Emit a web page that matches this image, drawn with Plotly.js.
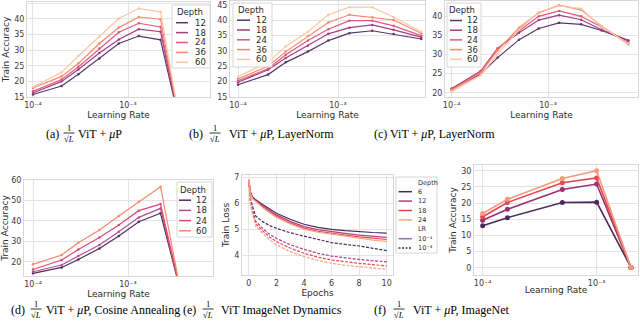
<!DOCTYPE html>
<html><head><meta charset="utf-8">
<script src="https://cdn.plot.ly/plotly-3.0.1.min.js"></script>
<style>html,body{margin:0;padding:0;background:#fff}#chart{width:640px;height:325px}</style>
</head><body><div id="chart"></div>
<script>
// ---------------- DATA ----------------
// (a) 1/sqrt(L) ViT + muP
const lrA = [1e-4, 2e-4, 3e-4, 5e-4, 8e-4, 1.3e-3, 2.2e-3, 3.6e-3];
const depthsA = [12, 18, 24, 36, 60];
const accA_12 = [15.8, 18.5, 22.3, 27.3, 32.1, 34.5, 33.3, 5];
const accA_18 = [16.3, 20.0, 23.8, 29.1, 33.4, 36.7, 35.9, 5];
const accA_24 = [16.8, 20.6, 24.6, 30.5, 35.7, 38.6, 37.4, 5];
const accA_36 = [17.9, 21.6, 25.7, 32.1, 37.2, 40.6, 39.9, 5];
const accA_60 = [18.2, 22.9, 28.1, 34.4, 40.1, 43.3, 42.3, 5];

// (b) 1/sqrt(L) ViT + muP, LayerNorm
const lrB = [1e-4, 2e-4, 3e-4, 5e-4, 8e-4, 1.3e-3, 2.2e-3, 3.6e-3, 6.8e-3];
const accB_12 = [19.0, 22.3, 26.3, 29.8, 33.4, 35.8, 36.6, 35.5, 33.9];
const accB_18 = [19.8, 23.9, 27.7, 31.7, 35.6, 37.6, 38.5, 36.9, 34.5];
const accB_24 = [20.3, 24.2, 28.8, 33.4, 37.1, 39.9, 39.9, 38.2, 35.0];
const accB_36 = [20.9, 25.0, 29.8, 34.9, 39.3, 41.8, 41.0, 40.1, 35.8];
const accB_60 = [21.7, 26.3, 31.5, 36.3, 41.8, 44.3, 44.3, 41.0, 36.3];

// (c) ViT + muP, LayerNorm
const lrC = [1e-4, 2e-4, 3e-4, 5e-4, 8e-4, 1.3e-3, 2.2e-3, 3.6e-3, 6.8e-3];
const accC_12 = [20.9, 24.9, 29.2, 33.9, 36.8, 38.3, 37.9, 36.3, 33.6];
const accC_18 = [21.1, 25.7, 31.6, 35.7, 39.0, 40.3, 39.1, 36.5, 33.7];
const accC_24 = [20.9, 25.5, 31.6, 36.2, 40.0, 41.4, 40.0, 37.2, 33.0];
const accC_36 = [20.7, 25.2, 31.1, 37.0, 40.9, 42.9, 41.7, 37.4, 32.7];
const accC_60 = [20.3, 24.6, 30.1, 36.5, 41.1, 42.7, 42.0, 37.2, 32.9];

// (d) 1/sqrt(L) ViT + muP, Cosine Annealing
const lrD = [1e-4, 2e-4, 3e-4, 5e-4, 8e-4, 1.3e-3, 2.2e-3, 3.6e-3];
const depthsD = [12, 18, 24, 60];
const accD_12 = [14.3, 17.2, 21.1, 26.5, 32.6, 39.6, 43.7, 5];
const accD_18 = [15.1, 18.4, 22.8, 28.2, 34.7, 41.7, 46.1, 5];
const accD_24 = [16.2, 20.8, 26.0, 31.9, 38.0, 45.0, 48.2, 5];
const accD_60 = [18.7, 23.3, 29.3, 35.5, 42.4, 49.4, 56.7, 5];

// (e) 1/sqrt(L) ViT ImageNet Dynamics
const epochsE = [0, 0.1, 0.25, 0.5, 1, 1.5, 2, 3, 4, 5, 6, 7, 8, 9, 10];
const depthsE = [6, 12, 18, 24];
const lrLabelsE = ['10⁻⁴', '10⁻³'];
const lossE_6_lo  = [6.9, 6.45, 6.25, 6.13, 5.95, 5.77, 5.61, 5.38, 5.19, 5.07, 4.99, 4.94, 4.90, 4.87, 4.85];
const lossE_12_lo = [6.9, 6.42, 6.22, 6.10, 5.90, 5.72, 5.55, 5.30, 5.10, 4.98, 4.90, 4.84, 4.77, 4.72, 4.68];
const lossE_18_lo = [6.9, 6.40, 6.20, 6.08, 5.87, 5.68, 5.50, 5.24, 5.04, 4.92, 4.84, 4.77, 4.70, 4.65, 4.60];
const lossE_24_lo = [6.9, 6.38, 6.18, 6.06, 5.83, 5.63, 5.45, 5.20, 5.00, 4.88, 4.80, 4.72, 4.64, 4.58, 4.53];
const lossE_6_hi  = [6.9, 6.20, 5.90, 5.50, 5.29, 5.14, 5.03, 4.86, 4.73, 4.60, 4.48, 4.41, 4.35, 4.26, 4.17];
const lossE_12_hi = [6.9, 6.10, 5.75, 5.30, 5.03, 4.80, 4.64, 4.40, 4.22, 4.07, 3.96, 3.89, 3.83, 3.78, 3.74];
const lossE_18_hi = [6.9, 6.05, 5.68, 5.20, 4.94, 4.70, 4.52, 4.27, 4.07, 3.92, 3.81, 3.74, 3.68, 3.63, 3.58];
const lossE_24_hi = [6.9, 6.00, 5.62, 5.10, 4.84, 4.58, 4.39, 4.13, 3.94, 3.79, 3.68, 3.60, 3.55, 3.50, 3.45];

// (f) 1/sqrt(L) ViT + muP, ImageNet
const lrF = [1e-4, 1.65e-4, 5e-4, 1e-3, 2e-3];
const depthsF = [6, 12, 18, 24];
const accF_6  = [13.0, 15.5, 20.2, 20.3, 0.1];
const accF_12 = [14.7, 18.1, 24.2, 25.9, 0.1];
const accF_18 = [15.8, 20.2, 26.3, 27.8, 0.1];
const accF_24 = [16.8, 21.2, 27.6, 30.0, 0.1];

const logTickVals = [1e-4, 1e-3];
const logTickText = ['10⁻⁴', '10⁻³'];

// ---------------- STYLE ----------------
const FONT = 'DejaVu Sans';
const SERIF = 'Liberation Serif';
const W = 640, H = 325;
const px = x => x / W, py = y => 1 - y / H;
const colA = {12: '#5a3768', 18: '#a23e82', 24: '#e2577f', 36: '#f6896a', 60: '#fcc6a6'};
const colD = {12: '#4f2d5e', 18: '#b5508f', 24: '#e2467a', 60: '#f48a68'};
const colE = {6: '#4a2a5e', 12: '#b0417f', 18: '#e9474e', 24: '#f7a784'};
const colF = {6: '#4b2b5a', 12: '#9c2f6d', 18: '#e5474f', 24: '#f39b7b'};

const traces = [];
function addLines(xs, ysList, depths, cols, ax, lw, ms) {
  depths.forEach((d, i) => {
    traces.push({
      type: 'scatter', mode: 'lines+markers', x: xs, y: ysList[i],
      xaxis: ax[0], yaxis: ax[1], name: String(d),
      line: {color: cols[d], width: lw},
      marker: {color: cols[d], size: ms},
      hoverinfo: 'skip'
    });
  });
}
addLines(lrA, [accA_12, accA_18, accA_24, accA_36, accA_60], depthsA, colA, ['x', 'y'], 1.2, 2.5);
addLines(lrB, [accB_12, accB_18, accB_24, accB_36, accB_60], depthsA, colA, ['x2', 'y2'], 1.2, 2.5);
addLines(lrC, [accC_12, accC_18, accC_24, accC_36, accC_60], depthsA, colA, ['x3', 'y3'], 1.2, 2.5);
addLines(lrD, [accD_12, accD_18, accD_24, accD_60], depthsD, colD, ['x4', 'y4'], 1.2, 2.5);
// (e)
const lossLo = [lossE_6_lo, lossE_12_lo, lossE_18_lo, lossE_24_lo];
const lossHi = [lossE_6_hi, lossE_12_hi, lossE_18_hi, lossE_24_hi];
depthsE.forEach((d, i) => {
  traces.push({type: 'scatter', mode: 'lines', x: epochsE, y: lossLo[i], xaxis: 'x5', yaxis: 'y5',
    line: {color: colE[d], width: 1.2}, hoverinfo: 'skip', name: d + ' lr1e-4'});
  traces.push({type: 'scatter', mode: 'lines', x: epochsE, y: lossHi[i], xaxis: 'x5', yaxis: 'y5',
    line: {color: colE[d], width: 1.2, dash: '3px,1.5px'}, hoverinfo: 'skip', name: d + ' lr1e-3'});
});
addLines(lrF, [accF_6, accF_12, accF_18, accF_24], depthsF, colF, ['x6', 'y6'], 1.6, 5);

// ---------------- AXES ----------------
const tickfont = {family: FONT, size: 8, color: '#3b3b3b'};
const titlefont = {family: FONT, size: 9, color: '#2b2b2b'};
function ax(extra) {
  return Object.assign({
    showgrid: true, gridcolor: '#e4e4e4', gridwidth: 1,
    showline: true, mirror: true, linecolor: '#d8d8d8', linewidth: 1,
    zeroline: false, ticks: '', tickfont: tickfont, fixedrange: true
  }, extra);
}
function logX(x0, x1, range, anchor, title) {
  const o = ax({type: 'log', domain: [px(x0), px(x1)], range: range, anchor: anchor,
    tickvals: logTickVals, ticktext: logTickText});
  if (title) o.title = {text: title, font: titlefont, standoff: 0};
  return o;
}
function linY(y0, y1, range, anchor, dtick, title) {
  const o = ax({domain: [py(y1), py(y0)], range: range, anchor: anchor, dtick: dtick, tick0: 0});
  if (title) o.title = {text: title, font: titlefont, standoff: 3};
  return o;
}

const layout = {
  width: W, height: H, margin: {l: 0, r: 0, t: 0, b: 0},
  paper_bgcolor: '#ffffff', plot_bgcolor: '#ffffff', showlegend: false,
  font: {family: FONT, color: '#333'},
  xaxis:  logX(27, 210, [-4.063, -2.137], 'y', 'Learning Rate'),
  yaxis:  linY(2, 97, [15, 45.4], 'x', 5, 'Train Accuracy'),
  xaxis2: logX(230, 425, [-4.08, -2.13], 'y2', 'Learning Rate'),
  yaxis2: linY(1, 97, [15, 46.3], 'x2', 5),
  xaxis3: logX(445, 638, [-4.069, -2.067], 'y3', 'Learning Rate'),
  yaxis3: linY(1, 97, [18.9, 44], 'x3', 5),
  xaxis4: logX(24, 213, [-4.095, -2.105], 'y4', 'Learning Rate'),
  yaxis4: linY(180, 276, [13, 60], 'x4', 10, 'Train Accuracy'),
  xaxis5: ax({domain: [px(242), px(393)], range: [-0.5, 10.46], anchor: 'y5', dtick: 2, tick0: 0,
    title: {text: 'Epochs', font: titlefont, standoff: 0}}),
  yaxis5: linY(175, 275, [3.23, 7.09], 'x5', 1, 'Train Loss'),
  xaxis6: logX(474, 638, [-4.076, -2.637], 'y6', 'Learning Rate'),
  yaxis6: linY(165, 275, [-2.25, 31.8], 'x6', 5, 'Train Accuracy'),
  shapes: [], annotations: []
};

// ---------------- LEGENDS (drawn by hand, compact like matplotlib) ----------------
function legend(box, title, titleX, titleY, labels, cols, dashes, rowY0, step, lx0, lx1, tx, fs, titleAnchor) {
  layout.shapes.push({type: 'rect', xref: 'paper', yref: 'paper', layer: 'above',
    x0: px(box[0]), x1: px(box[2]), y0: py(box[3]), y1: py(box[1]),
    line: {color: '#d6d6d6', width: 1}, fillcolor: 'rgba(255,255,255,0.85)'});
  layout.annotations.push({xref: 'paper', yref: 'paper', x: px(titleX), y: py(titleY),
    xanchor: titleAnchor || 'center', yanchor: 'middle', text: title, showarrow: false,
    font: {family: FONT, size: fs, color: '#2b2b2b'}, borderpad: 0});
  labels.forEach((lab, i) => {
    const y = rowY0 + i * step;
    if (cols[i]) {
      layout.shapes.push({type: 'line', xref: 'paper', yref: 'paper', layer: 'above',
        x0: px(lx0), x1: px(lx1), y0: py(y), y1: py(y),
        line: {color: cols[i], width: 1.5, dash: dashes && dashes[i] ? dashes[i] : 'solid'}});
    }
    layout.annotations.push({xref: 'paper', yref: 'paper', x: px(tx), y: py(y),
      xanchor: 'left', yanchor: 'middle', text: lab, showarrow: false,
      font: {family: FONT, size: fs, color: '#2b2b2b'}, borderpad: 0});
  });
}
const labA = depthsA.map(String), cA = depthsA.map(d => colA[d]);
legend([172, 5, 210, 68], 'Depth', 190, 12.5, labA, cA, null, 22.7, 9.9, 176, 188, 194, 8.5);
legend([233, 3, 272, 67], 'Depth', 251, 10, labA, cA, null, 20.2, 9.8, 237, 250, 255, 8.5);
legend([447, 3, 481, 67], 'Depth', 462, 9.5, labA, cA, null, 20.5, 9.7, 450, 462, 466, 8.5);
legend([177, 182, 212, 237], 'Depth', 193, 189.5, depthsD.map(String), depthsD.map(d => colD[d]), null,
  200.2, 10.2, 179, 191, 195, 8.5);
legend([396, 177, 437, 253], 'Depth', 416.5, 182.7,
  depthsE.map(String).concat(['LR'], lrLabelsE),
  depthsE.map(d => colE[d]).concat([null, '#8f7399', '#4a2a5e']),
  [null, null, null, null, null, 'solid', '2px,1.5px'],
  191.7, 9.4, 398.5, 412, 416.5, 6.5, 'left');

// ---------------- CAPTIONS ----------------
function caption(yc, lab, labX, fracX, rest, restX) {
  const f = {family: SERIF, size: 12, color: '#000'};
  layout.annotations.push({xref: 'paper', yref: 'paper', x: px(labX), y: py(yc), xanchor: 'left', yanchor: 'middle',
    text: lab, showarrow: false, font: f, borderpad: 0});
  if (fracX !== null) {
    const ff = {family: SERIF, size: 8.5, color: '#000'};
    layout.annotations.push({xref: 'paper', yref: 'paper', x: px(fracX), y: py(yc - 6.3), xanchor: 'center', yanchor: 'middle',
      text: '1', showarrow: false, font: ff, borderpad: 0});
    layout.annotations.push({xref: 'paper', yref: 'paper', x: px(fracX), y: py(yc + 5.3), xanchor: 'center', yanchor: 'middle',
      text: '√<i>L</i>', showarrow: false, font: ff, borderpad: 0});
    layout.shapes.push({type: 'line', xref: 'paper', yref: 'paper', x0: px(fracX - 5.5), x1: px(fracX + 5.5),
      y0: py(yc - 1), y1: py(yc - 1), line: {color: '#000', width: 0.8}});
  }
  if (rest) {
    layout.annotations.push({xref: 'paper', yref: 'paper', x: px(restX), y: py(yc), xanchor: 'left', yanchor: 'middle',
      text: rest, showarrow: false, font: f, borderpad: 0});
  }
}
caption(134, '(a)', 45, 69, 'ViT + <i>μ</i>P', 77);
caption(134, '(b)', 188, 215, 'ViT + <i>μ</i>P, LayerNorm', 228);
caption(134, '(c) ViT + <i>μ</i>P, LayerNorm', 373, null, null, 0);
caption(310, '(d)', 10, 36, 'ViT + <i>μ</i>P, Cosine Annealing', 45);
caption(310, '(e)', 182, 208, 'ViT ImageNet Dynamics', 220);
caption(310, '(f)', 373, 399, 'ViT + <i>μ</i>P, ImageNet', 412);

Plotly.newPlot('chart', traces, layout, {staticPlot: true, displayModeBar: false});
</script>
</body></html>
